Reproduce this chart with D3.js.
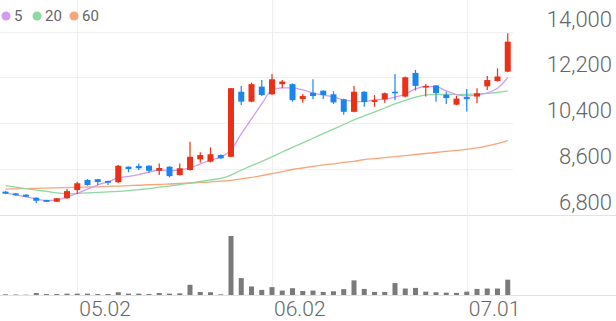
<!DOCTYPE html>
<html>
<head>
<meta charset="utf-8">
<script src="https://cdn.jsdelivr.net/npm/d3@7"></script>
<style>
  html, body { margin: 0; padding: 0; background: #fff; }
  svg { display: block; font-family: Roboto, 'Noto Sans', sans-serif; }
</style>
</head>
<body>
<svg id="chart" width="616" height="321"></svg>
<script>
'use strict';

// trading days (MM.DD)
var dates = ['04.22', '04.23', '04.24', '04.25', '04.28', '04.29', '04.30', '05.02', '05.07', '05.08',
  '05.09', '05.12', '05.13', '05.14', '05.15', '05.16', '05.19', '05.20', '05.21', '05.22',
  '05.23', '05.26', '05.27', '05.28', '05.29', '05.30', '06.02', '06.04', '06.05', '06.09',
  '06.10', '06.11', '06.12', '06.13', '06.16', '06.17', '06.18', '06.19', '06.20', '06.23',
  '06.24', '06.25', '06.26', '06.27', '06.30', '07.01', '07.02', '07.03', '07.04', '07.07'];

var opens = [7700, 7630, 7580, 7460, 7370, 7300, 7440, 7760, 8160, 8190,
  8120, 8070, 8680, 8710, 8720, 8520, 8680, 8350, 8550, 8970,
  8880, 9140, 9070, 11630, 11240, 11830, 11530, 11930, 11930, 11340,
  11590, 11670, 11530, 11330, 10840, 11630, 11230, 11330, 11630, 11440,
  12370, 11800, 11880, 11510, 11120, 11420, 11440, 11840, 12050, 12420];
var highs = [7720, 7650, 7600, 7480, 7380, 7450, 7800, 8090, 8190, 8200,
  8130, 8750, 8690, 8810, 8740, 8810, 8700, 8810, 9660, 9250,
  9440, 9160, 11780, 11860, 11990, 12090, 12330, 12090, 11960, 11540,
  12120, 11690, 11650, 11350, 11860, 11650, 11500, 11600, 12330, 12230,
  12490, 11930, 11890, 11630, 11470, 11740, 11770, 12250, 12550, 13930];
var lows = [7600, 7540, 7490, 7240, 7290, 7290, 7410, 7610, 7930, 7960,
  7960, 8040, 8460, 8550, 8440, 8350, 8260, 8330, 8530, 8840,
  8850, 8990, 9060, 11110, 11220, 11460, 11500, 11770, 11240, 11200,
  11330, 11340, 11150, 10720, 10820, 11040, 11040, 11200, 11300, 11410,
  11680, 11440, 11240, 11150, 11100, 10850, 11180, 11700, 12030, 12400];
var closes = [7620, 7560, 7500, 7340, 7300, 7440, 7720, 8030, 7960, 8080,
  8050, 8720, 8590, 8620, 8520, 8630, 8310, 8620, 9070, 9140,
  9170, 9010, 11770, 11240, 11930, 11500, 12120, 12030, 11300, 11460,
  11460, 11500, 11210, 10840, 11630, 11230, 11300, 11570, 11570, 12200,
  11860, 11860, 11580, 11380, 11360, 11340, 11570, 12090, 12230, 13600];

// volume, thousand shares
var volumes = [35, 25, 15, 100, 50, 50, 70, 70, 70, 50,
  50, 140, 70, 70, 50, 100, 70, 85, 520, 155,
  140, 35, 3000, 860, 435, 260, 400, 225, 345, 205,
  225, 155, 190, 300, 745, 310, 155, 155, 605, 330,
  360, 170, 140, 120, 105, 170, 310, 330, 330, 780];

// moving averages
var ma5 = [7650, 7570, 7490, 7410, 7350, 7370, 7490, 7630, 7800, 7960,
  8080, 8240, 8300, 8370, 8470, 8550, 8530, 8550, 8630, 8790,
  8940, 9060, 9340, 9970, 10560, 11150, 11700, 11780, 11780, 11700,
  11580, 11500, 11420, 11310, 11250, 11240, 11310, 11340, 11420, 11540,
  11740, 11830, 11830, 11660, 11520, 11470, 11500, 11580, 11770, 12180];
var ma20 = [7940, 7880, 7820, 7760, 7710, 7650, 7610, 7630, 7650, 7670,
  7690, 7710, 7740, 7780, 7820, 7880, 7920, 7980, 8040, 8100,
  8160, 8220, 8350, 8540, 8720, 8890, 9070, 9260, 9440, 9620,
  9800, 9980, 10160, 10340, 10520, 10680, 10830, 10990, 11150, 11290,
  11420, 11510, 11530, 11530, 11520, 11530, 11540, 11570, 11600, 11660];
var ma60 = [7800, 7810, 7820, 7830, 7840, 7850, 7860, 7870, 7880, 7890,
  7910, 7920, 7940, 7950, 7970, 7980, 8000, 8020, 8040, 8060,
  8080, 8110, 8140, 8200, 8260, 8330, 8410, 8490, 8570, 8630,
  8690, 8750, 8790, 8850, 8890, 8960, 9000, 9040, 9080, 9120,
  9160, 9200, 9240, 9280, 9320, 9360, 9420, 9500, 9590, 9710];

var priceTicks = [6800, 8600, 10400, 12200, 14000];
var dateTicks = ['05.02', '06.02', '07.01'];
var maNames = ['5', '20', '60'];

var maColors = ['#d49cf0', '#8fd8a2', '#f7a57c'];
var upColor = '#ea3117';
var downColor = '#1a85f0';

var W = 616;
var plotRight = 513;

var svg = d3.select('#chart');

var x = d3.scalePoint().domain(dates).range([5.5, 507.75]);
var y = d3.scaleLinear().domain([6800, 14000]).range([214.5, 31.5]);
var yv = d3.scaleLinear().domain([0, 3000]).range([295, 236]);

function crisp(v) { return Math.round(v) + 0.5; }

// grid
var grid = svg.append('g');
grid.selectAll('line.hgrid')
  .data(priceTicks.slice(1))
  .enter().append('line')
  .attr('x1', 0).attr('x2', plotRight)
  .attr('y1', function (d) { return crisp(y(d)); })
  .attr('y2', function (d) { return crisp(y(d)); })
  .attr('stroke', '#efefef');
grid.append('line')
  .attr('x1', 0).attr('x2', W)
  .attr('y1', crisp(y(6800))).attr('y2', crisp(y(6800)))
  .attr('stroke', '#e2e2e2');
grid.selectAll('line.vgrid')
  .data(dateTicks)
  .enter().append('line')
  .attr('x1', function (d) { return crisp(x(d)); })
  .attr('x2', function (d) { return crisp(x(d)); })
  .attr('y1', 0).attr('y2', 295)
  .attr('stroke', '#efefef');
grid.append('line')
  .attr('x1', 0).attr('x2', W)
  .attr('y1', 295.5).attr('y2', 295.5)
  .attr('stroke', '#e2e2e2');

// price labels
svg.append('g').selectAll('text')
  .data(priceTicks)
  .enter().append('text')
  .attr('x', 612)
  .attr('y', function (d) { return Math.round(y(d)) - 5; })
  .attr('text-anchor', 'end')
  .attr('font-size', 22)
  .attr('font-weight', 300)
  .attr('fill', '#666')
  .text(function (d) { return d3.format(',')(d); });

// date labels
svg.append('g').selectAll('text')
  .data(dateTicks)
  .enter().append('text')
  .attr('x', function (d) { return x(d) + 2; })
  .attr('y', 316)
  .attr('font-size', 21)
  .attr('font-weight', 300)
  .attr('fill', '#666')
  .text(function (d) { return d; });

// moving average lines
var line = d3.line()
  .x(function (d, i) { return x(dates[i]); })
  .y(function (d) { return y(d); })
  .curve(d3.curveMonotoneX);
[ma60, ma20, ma5].forEach(function (series, k) {
  svg.append('path')
    .attr('d', line(series))
    .attr('fill', 'none')
    .attr('stroke', maColors[2 - k])
    .attr('stroke-width', 1.3);
});

// candles
var candles = svg.append('g').selectAll('g')
  .data(dates)
  .enter().append('g')
  .attr('fill', function (d, i) { return closes[i] >= opens[i] ? upColor : downColor; })
  .attr('stroke', function (d, i) { return closes[i] >= opens[i] ? upColor : downColor; });
candles.append('line')
  .attr('x1', function (d) { return x(d); })
  .attr('x2', function (d) { return x(d); })
  .attr('y1', function (d, i) { return y(highs[i]); })
  .attr('y2', function (d, i) { return y(lows[i]); })
  .attr('stroke-width', 1.2);
candles.append('rect')
  .attr('stroke', 'none')
  .attr('x', function (d) { return x(d) - 3; })
  .attr('width', 6)
  .attr('y', function (d, i) { return y(Math.max(opens[i], closes[i])); })
  .attr('height', function (d, i) {
    return Math.max(1.5, Math.abs(y(opens[i]) - y(closes[i])));
  });

// volume
svg.append('g').selectAll('rect')
  .data(volumes)
  .enter().append('rect')
  .attr('x', function (d, i) { return x(dates[i]) - 2.5; })
  .attr('width', 5)
  .attr('y', function (d) { return yv(d); })
  .attr('height', function (d) { return 295 - yv(d); })
  .attr('fill', '#7a7a7a');

// legend
var legendX = [6, 37, 74];
var legend = svg.append('g').selectAll('g')
  .data(maNames)
  .enter().append('g')
  .attr('transform', function (d, i) { return 'translate(' + legendX[i] + ',16)'; });
legend.append('circle')
  .attr('r', 4.5)
  .attr('fill', function (d, i) { return maColors[i]; });
legend.append('text')
  .attr('x', 8)
  .attr('y', 5)
  .attr('font-size', 15)
  .attr('fill', '#666')
  .text(function (d) { return d; });
</script>
</body>
</html>
